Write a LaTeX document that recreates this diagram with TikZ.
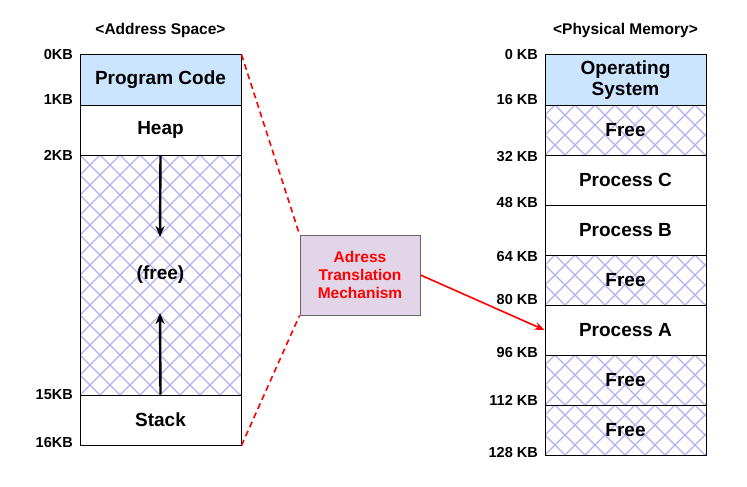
\documentclass[tikz,border=0pt]{standalone}
\usepackage{fontspec}
\setmainfont{Liberation Sans}
\usetikzlibrary{arrows.meta}
\definecolor{hatchc}{HTML}{B0B0F2}
\definecolor{codeblue}{HTML}{CCE5FF}
\definecolor{mechc}{HTML}{E1D5E7}
\tikzset{
 cell/.style={draw=black, line width=1pt, minimum width=161pt, inner sep=0pt, font=\fontsize{19}{21}\selectfont\bfseries, align=center},
 hatched/.style={path picture={\foreach \i in {-30,...,30}{
   \draw[hatchc, line width=1.3pt] ([xshift=\i*20pt]path picture bounding box.south west) -- ++(300pt,300pt);
   \draw[hatchc, line width=1.3pt] ([xshift=\i*20pt]path picture bounding box.south west) -- ++(-300pt,300pt);}}},
 lbl/.style={anchor=east, font=\fontsize{14.5}{16}\selectfont\bfseries, inner sep=0pt},
 hdr/.style={font=\fontsize{15.5}{17}\selectfont\bfseries},
 reddash/.style={red, line width=1.6pt, dash pattern=on 6pt off 4pt},
}
\begin{document}
\begin{tikzpicture}[x=1pt,y=-1pt]
\useasboundingbox (0,0) rectangle (747,487);
% left column
\node[cell, fill=codeblue, minimum height=50pt] (code) at (160.5,80) {Program Code};
\node[cell, fill=white, minimum height=50pt] (heap) at (160.5,130) {Heap};
\node[cell, hatched, minimum height=240pt] (free) at (160.5,275) {};
\node[font=\fontsize{19}{21}\selectfont\bfseries, inner sep=1pt] (freet) at (160.5,275) {(free)};
\node[cell, fill=white, minimum height=50pt] (stack) at (160.5,420) {Stack};
\coordinate (a1) at (160,237);
\coordinate (a2) at (160,313);
\draw[-{Stealth[length=11pt,width=9pt]}, line width=2.4pt] (heap.south) -- (a1);
\draw[-{Stealth[length=11pt,width=9pt]}, line width=2.4pt] (stack.north) -- (a2);
\node[hdr] (h1) at (160.5,30) {<Address Space>};
\node[lbl] (l0) at (73,55) {0KB};
\node[lbl] (l1) at (73,100) {1KB};
\node[lbl] (l2) at (73,155) {2KB};
\node[lbl] (l15) at (73,395) {15KB};
\node[lbl] (l16) at (73,443) {16KB};
% right column
\node[cell, fill=codeblue, minimum height=50pt] (os) at (625.5,80) {Operating\\System};
\node[cell, hatched, minimum height=50pt] (f1) at (625.5,130) {Free};
\node[cell, fill=white, minimum height=50pt] (pc) at (625.5,180) {Process C};
\node[cell, fill=white, minimum height=50pt] (pb) at (625.5,230) {Process B};
\node[cell, hatched, minimum height=50pt] (f2) at (625.5,280) {Free};
\node[cell, fill=white, minimum height=50pt] (pa) at (625.5,330) {Process A};
\node[cell, hatched, minimum height=50pt] (f3) at (625.5,380) {Free};
\node[cell, hatched, minimum height=50pt] (f4) at (625.5,430) {Free};
\node[hdr] (h2) at (625.5,30) {<Physical Memory>};
\foreach \y/\t [count=\k] in {55/0 KB,100/16 KB,157/32 KB,203/48 KB,257/64 KB,300/80 KB,353/96 KB,400/112 KB,453/128 KB}
  \node[lbl] (r\k) at (538,\y) {\t};
% mechanism
\node[draw=black!60, line width=1pt, fill=mechc, minimum width=120pt, minimum height=80pt, align=center, text=red, font=\fontsize{15.5}{18}\selectfont\bfseries] (mech) at (360,275) {Adress\\Translation\\Mechanism};
\draw[reddash] (code.north east) -- (mech.north west);
\draw[reddash] (stack.south east) -- (mech.south west);
\draw[red, line width=1.6pt, -{Stealth[length=10pt,width=8pt]}] (mech.east) -- (pa.west);
\end{tikzpicture}
\end{document}
